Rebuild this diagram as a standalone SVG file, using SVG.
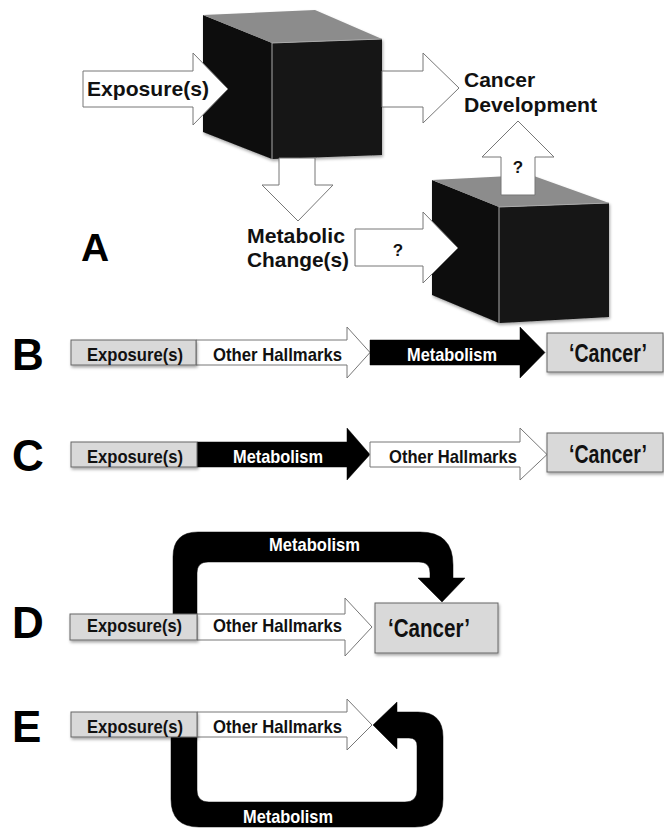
<svg xmlns="http://www.w3.org/2000/svg" width="664" height="829" viewBox="0 0 664 829">
<defs>
<filter id="sh" x="-10%" y="-20%" width="130%" height="160%"><feDropShadow dx="1" dy="2" stdDeviation="1.5" flood-color="#000" flood-opacity="0.35"/></filter>
</defs>
<style>
.lbl{font-family:"Liberation Sans",Arial,sans-serif;font-weight:bold;fill:#111}
.big{font-family:"Liberation Sans",Arial,sans-serif;font-weight:bold;font-size:44px;fill:#000}
.nar{font-family:"Liberation Sans Narrow","Liberation Sans",Arial,sans-serif;font-weight:bold;font-size:19px;fill:#111}
.can{font-size:25px}
.wt{fill:#fff}
.box{fill:#d9d9d9;stroke:#666;stroke-width:1}
.warr{fill:#fff;stroke:#777;stroke-width:1}
.barr{fill:#000;stroke:#000;stroke-width:0.5}
.front{fill:#121212}
.side{fill:#0c0c0c}
.top{fill:#8c8c8c}
.edge{fill:none;stroke:#aaa;stroke-width:1}
</style>
<rect width="664" height="829" fill="#fff"/>

<!-- Panel A -->
<g id="cube1" filter="url(#sh)">
<polygon class="side" points="203,15 272,43 272,159 203,132"/>
<polygon class="front" points="272,43 382,39 382,155 272,159"/>
<polygon class="top" points="203,15 315,10 382,39 272,43"/>
<polyline class="edge" points="272,159 272,43 382,39"/>
</g>
<g id="cube2" filter="url(#sh)">
<polygon class="side" points="432,180 499,207 499,323 432,295"/>
<polygon class="front" points="499,207 609,203 609,317 499,323"/>
<polygon class="top" points="432,180 531,175 609,203 499,207"/>
<polyline class="edge" points="499,323 499,207 609,203"/>
</g>

<g id="connectors">
<polygon id="a-exposure" class="warr" points="83,71 193,71 193,53 228,89 193,125 193,107 83,107"/>
<polygon id="a-cancer" class="warr" points="382,71 423,71 423,53 459,88 423,123 423,107 382,107"/>
<polygon id="a-metab" class="warr" points="279,158 315,158 315,185 333,185 298,221 262,185 279,185"/>
<polygon id="a-up" class="warr" points="501,195 501,157 482,157 518,121 554,157 535,157 535,195"/>
<polygon id="a-q" class="warr" points="355,229 423,229 423,212 458,248 423,283 423,266 355,266"/>

<!-- B arrows -->
<polygon class="warr" points="196,340 347,340 347,327 370,352.5 347,378 347,365 196,365"/>
<polygon class="barr" points="370,340 520,340 520,327 545,352.5 520,378 520,365 370,365"/>
<!-- C arrows -->
<polygon class="barr" points="197,442 347,442 347,428 370,454.5 347,480 347,467 197,467"/>
<polygon class="warr" points="370,442 520,442 520,428 547,454.5 520,480 520,467 370,467"/>
<!-- D arrows -->
<polygon class="warr" points="197,614 345,614 345,598 372,627 345,656 345,640 197,640"/>
<path class="barr" d="M173,614 L173,557 Q173,532 198,532 L420,532 Q453,532 453,565 L453,578 L465,578 L442,602 L418,578 L430,578 L430,573 Q430,562 419,562 L208,562 Q197,562 197,573 L197,614 Z"/>
<!-- E arrows -->
<polygon class="warr" points="197,712 347,712 347,699 372,725 347,750 347,737 197,737"/>
<path class="barr" d="M197,737 L197,790 Q197,802 209,802 L405,802 Q417,802 417,790 L417,746 Q417,738 409,738 L397,738 L397,749 L373,725 L397,702 L397,712 L418,712 Q443,712 443,737 L443,799 Q443,827 415,827 L199,827 Q171,827 171,799 L171,737 Z"/>
</g>

<g id="labels-a">
<text class="lbl" x="87" y="96" font-size="21" textLength="122" lengthAdjust="spacingAndGlyphs">Exposure(s)</text>
<text class="lbl" x="464" y="87" font-size="21">Cancer</text>
<text class="lbl" x="464" y="112" font-size="21" textLength="133" lengthAdjust="spacingAndGlyphs">Development</text>
<text class="lbl" x="247" y="243" font-size="21" textLength="98" lengthAdjust="spacingAndGlyphs">Metabolic</text>
<text class="lbl" x="247" y="267" font-size="21" textLength="102" lengthAdjust="spacingAndGlyphs">Change(s)</text>
<text class="lbl" x="518" y="173" font-size="17" text-anchor="middle">?</text>
<text class="lbl" x="398" y="256" font-size="17" text-anchor="middle">?</text>
<text class="big" x="81" y="261" style="font-size:39px">A</text>
</g>

<g id="panel-b">
<rect id="b-exposure" class="box" x="71" y="340" width="125" height="25" filter="url(#sh)"/>
<rect id="b-cancer" class="box" x="547" y="333" width="116" height="39" filter="url(#sh)"/>
<text class="nar" x="87" y="361" textLength="96" lengthAdjust="spacingAndGlyphs">Exposure(s)</text>
<text class="nar" x="213" y="361" textLength="129" lengthAdjust="spacingAndGlyphs">Other Hallmarks</text>
<text class="nar wt" x="407" y="361" textLength="90" lengthAdjust="spacingAndGlyphs">Metabolism</text>
<text class="nar can" x="569" y="362" textLength="78" lengthAdjust="spacingAndGlyphs">‘Cancer’</text>
<text class="big" x="12" y="370">B</text>
</g>

<g id="panel-c">
<rect id="c-exposure" class="box" x="71" y="442" width="126" height="25" filter="url(#sh)"/>
<rect id="c-cancer" class="box" x="547" y="433" width="116" height="39" filter="url(#sh)"/>
<text class="nar" x="87" y="463" textLength="96" lengthAdjust="spacingAndGlyphs">Exposure(s)</text>
<text class="nar wt" x="233" y="463" textLength="90" lengthAdjust="spacingAndGlyphs">Metabolism</text>
<text class="nar" x="389" y="463" textLength="128" lengthAdjust="spacingAndGlyphs">Other Hallmarks</text>
<text class="nar can" x="569" y="463" textLength="78" lengthAdjust="spacingAndGlyphs">‘Cancer’</text>
<text class="big" x="12" y="471">C</text>
</g>

<g id="panel-d">
<rect id="d-exposure" class="box" x="70" y="614" width="127" height="26" filter="url(#sh)"/>
<rect id="d-cancer" class="box" x="375" y="603" width="123" height="50" filter="url(#sh)"/>
<text class="nar" x="87" y="632" textLength="95" lengthAdjust="spacingAndGlyphs">Exposure(s)</text>
<text class="nar" x="213" y="632" textLength="129" lengthAdjust="spacingAndGlyphs">Other Hallmarks</text>
<text class="nar can" x="388" y="637" textLength="82" lengthAdjust="spacingAndGlyphs">‘Cancer’</text>
<text class="nar wt" x="269" y="551" font-size="18" textLength="91" lengthAdjust="spacingAndGlyphs">Metabolism</text>
<text class="big" x="12" y="638">D</text>
</g>

<g id="panel-e">
<rect id="e-exposure" class="box" x="71" y="712" width="126" height="25" filter="url(#sh)"/>
<text class="nar" x="87" y="733" textLength="96" lengthAdjust="spacingAndGlyphs">Exposure(s)</text>
<text class="nar" x="213" y="733" textLength="129" lengthAdjust="spacingAndGlyphs">Other Hallmarks</text>
<text class="nar wt" x="243" y="823" textLength="90" lengthAdjust="spacingAndGlyphs">Metabolism</text>
<text class="big" x="12" y="742">E</text>
</g>
</svg>
